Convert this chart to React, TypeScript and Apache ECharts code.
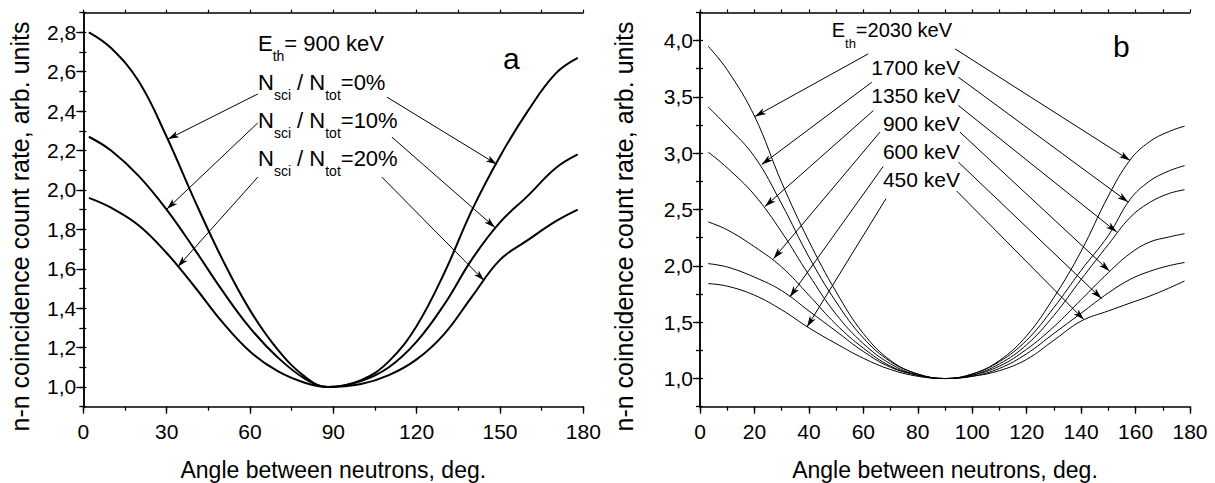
import React, { useEffect, useRef } from 'react';
import * as echarts from 'echarts';

const FONT = '"Liberation Sans", Arial, Helvetica, sans-serif';

// ---------- Panel a ----------
const anglesA = [2, 10, 20, 30, 40, 50, 60, 70, 80, 88, 100, 110, 120, 130, 140, 150, 160, 170, 178];
const sci0 = [2.80, 2.72, 2.55, 2.27, 1.95, 1.65, 1.39, 1.19, 1.05, 1.00, 1.035, 1.13, 1.31, 1.58, 1.90, 2.17, 2.40, 2.59, 2.67];
const sci10 = [2.27, 2.20, 2.07, 1.90, 1.70, 1.49, 1.30, 1.15, 1.04, 1.00, 1.03, 1.10, 1.23, 1.42, 1.65, 1.835, 1.97, 2.11, 2.18];
const sci20 = [1.96, 1.91, 1.82, 1.68, 1.51, 1.33, 1.18, 1.08, 1.02, 1.00, 1.015, 1.06, 1.14, 1.27, 1.46, 1.645, 1.745, 1.84, 1.90];
const yTicksA = [1.0, 1.2, 1.4, 1.6, 1.8, 2.0, 2.2, 2.4, 2.6, 2.8];
// arrows: [fromAngle, fromValue, toAngle, toValue]
const arrowsA = [
  [62.8, 2.487, 30.5, 2.258],
  [62.8, 2.34, 30.1, 1.903],
  [62.8, 2.065, 34.0, 1.61],
  [109.3, 2.471, 148.9, 2.13],
  [111.1, 2.268, 148.2, 1.81],
  [107.5, 2.065, 144.3, 1.54],
];

// ---------- Panel b ----------
const anglesB = [3, 10, 20, 30, 40, 50, 60, 70, 80, 90, 100, 110, 120, 130, 140, 150, 158, 165, 172, 178];
const e2030 = [3.95, 3.74, 3.33, 2.74, 2.22, 1.77, 1.40, 1.16, 1.04, 1.00, 1.04, 1.16, 1.38, 1.72, 2.13, 2.62, 2.94, 3.10, 3.19, 3.24];
const e1700 = [3.41, 3.24, 2.97, 2.55, 2.08, 1.68, 1.36, 1.15, 1.04, 1.00, 1.04, 1.15, 1.34, 1.63, 1.96, 2.27, 2.59, 2.75, 2.84, 2.89];
const e1350 = [3.01, 2.87, 2.63, 2.30, 1.92, 1.57, 1.31, 1.13, 1.03, 1.00, 1.03, 1.13, 1.30, 1.56, 1.88, 2.19, 2.43, 2.56, 2.64, 2.676];
const e900 = [2.39, 2.32, 2.17, 1.99, 1.74, 1.48, 1.27, 1.11, 1.03, 1.00, 1.03, 1.11, 1.26, 1.46, 1.70, 1.94, 2.11, 2.21, 2.255, 2.286];
const e600 = [2.02, 1.99, 1.90, 1.78, 1.60, 1.42, 1.24, 1.10, 1.03, 1.00, 1.02, 1.09, 1.22, 1.40, 1.58, 1.76, 1.88, 1.95, 2.00, 2.03];
const e450 = [1.843, 1.82, 1.74, 1.61, 1.45, 1.31, 1.18, 1.08, 1.02, 1.00, 1.02, 1.07, 1.17, 1.34, 1.51, 1.60, 1.67, 1.73, 1.80, 1.866];
const yTicksB = [1.0, 1.5, 2.0, 2.5, 3.0, 3.5, 4.0];
const arrowsB = [
  [61.8, 3.882, 20.2, 3.326],
  [63.1, 3.63, 22.7, 2.90],
  [63.7, 3.379, 23.9, 2.528],
  [66.1, 3.187, 27.0, 2.064],
  [67.3, 2.883, 33.0, 1.724],
  [68.3, 2.596, 39.3, 1.458],
  [93.7, 3.926, 158.0, 2.936],
  [94.9, 3.675, 157.3, 2.566],
  [94.9, 3.424, 153.1, 2.30],
  [95.5, 3.187, 150.4, 1.954],
  [94.9, 2.921, 147.5, 1.71],
  [94.3, 2.664, 141.0, 1.523],
];

const zip = (xs: number[], ys: number[]) => xs.map((x, i) => [x, ys[i]]);
const comma = (v: number) => v.toFixed(1).replace('.', ',');

function arrowData(arrows: number[][]) {
  return arrows.map((a) => [
    { coord: [a[0], a[1]], symbol: 'none' },
    { coord: [a[2], a[3]], symbol: 'arrow', symbolSize: [5, 11] },
  ]);
}

function makeAxes(grid: number, xMinor: number, xMajor: number, yMin: number, yMax: number, yMinor: number, yMajors: number[]) {
  const line = { show: true, lineStyle: { color: '#000', width: 1.5 } };
  const noLine = { show: false };
  const lbl = { color: '#000', fontFamily: FONT, fontSize: 21 };
  const xAxes = [
    {
      type: 'value', gridIndex: grid, position: 'bottom', min: 0, max: 180, interval: xMajor,
      axisLine: line, splitLine: { show: false },
      axisTick: { show: true, inside: false, length: 7, lineStyle: { color: '#000', width: 1.3 } },
      axisLabel: { ...lbl, margin: 14, showMinLabel: true, showMaxLabel: true },
    },
    {
      type: 'value', gridIndex: grid, position: 'bottom', min: 0, max: 180, interval: xMinor,
      axisLine: noLine, splitLine: { show: false },
      axisTick: { show: true, inside: false, length: 4, lineStyle: { color: '#000', width: 1.3 } },
      axisLabel: { show: false },
    },
    {
      type: 'value', gridIndex: grid, position: 'top', min: 0, max: 180, interval: xMinor,
      axisLine: line, splitLine: { show: false },
      axisTick: { show: true, inside: false, length: 3, lineStyle: { color: '#000', width: 1.2 } },
      axisLabel: { show: false },
    },
  ];
  const yAxes = [
    {
      type: 'value', gridIndex: grid, position: 'left', min: yMin, max: yMax,
      axisLine: line, splitLine: { show: false },
      axisTick: { show: true, inside: false, length: 7, customValues: yMajors, lineStyle: { color: '#000', width: 1.3 } },
      axisLabel: { ...lbl, margin: 7, customValues: yMajors, formatter: (v: number) => comma(v) },
    },
    {
      type: 'value', gridIndex: grid, position: 'left', min: yMin, max: yMax, interval: yMinor,
      axisLine: noLine, splitLine: { show: false },
      axisTick: { show: true, inside: false, length: 4, lineStyle: { color: '#000', width: 1.3 } },
      axisLabel: { show: false },
    },
    {
      type: 'value', gridIndex: grid, position: 'right', min: yMin, max: yMax, interval: yMinor,
      axisLine: line, splitLine: { show: false },
      axisTick: { show: true, inside: false, length: 3, lineStyle: { color: '#000', width: 1.2 } },
      axisLabel: { show: false },
    },
  ];
  return { xAxes, yAxes };
}

function curve(name: string, xs: number[], ys: number[], axisIdx: number, width: number, arrows?: number[][]) {
  const s: any = {
    type: 'line', name, data: zip(xs, ys), xAxisIndex: axisIdx, yAxisIndex: axisIdx,
    smooth: 0.4, showSymbol: false, symbol: 'none', silent: true,
    lineStyle: { color: '#000', width },
  };
  if (arrows) {
    s.markLine = {
      silent: true, animation: false,
      symbol: ['none', 'arrow'],
      label: { show: false },
      lineStyle: { color: '#000', width: 1, type: 'solid' },
      itemStyle: { color: '#000' },
      emphasis: { disabled: true },
      data: arrowData(arrows),
    };
  }
  return s;
}

function richLine(x: number, y: number, text: string, mainSize: number, subSize: number, lh: number, subPad: number) {
  return {
    type: 'text', x, y, silent: true,
    style: {
      text, verticalAlign: 'top', align: 'left',
      rich: {
        m: { fontFamily: FONT, fontSize: mainSize, fill: '#000', lineHeight: lh, verticalAlign: 'top' },
        s: { fontFamily: FONT, fontSize: subSize, fill: '#000', verticalAlign: 'top', padding: [subPad, 0, 0, 0] },
      },
    },
  };
}

function plain(x: number, y: number, text: string, size: number, align: string, rotation = 0) {
  return {
    type: 'text', x, y, rotation, silent: true,
    style: { text, fontFamily: FONT, fontSize: size, fill: '#000', align, verticalAlign: 'middle' },
  };
}

function buildOption() {
  const a = makeAxes(0, 15, 30, 0.9, 2.9, 0.1, yTicksA);
  const b = makeAxes(1, 10, 20, 0.75, 4.25, 0.25, yTicksB);
  return {
    animation: false,
    backgroundColor: '#fff',
    textStyle: { fontFamily: FONT },
    grid: [
      { left: 83.3, top: 12.6, width: 500, height: 394.1 },
      { left: 700, top: 12.4, width: 490, height: 394.3 },
    ],
    xAxis: [...a.xAxes, ...b.xAxes],
    yAxis: [...a.yAxes, ...b.yAxes],
    series: [
      curve('0%', anglesA, sci0, 0, 2, arrowsA),
      curve('10%', anglesA, sci10, 0, 2),
      curve('20%', anglesA, sci20, 0, 2),
      curve('2030 keV', anglesB, e2030, 3, 1, arrowsB),
      curve('1700 keV', anglesB, e1700, 3, 1),
      curve('1350 keV', anglesB, e1350, 3, 1),
      curve('900 keV', anglesB, e900, 3, 1),
      curve('600 keV', anglesB, e600, 3, 1),
      curve('450 keV', anglesB, e450, 3, 1),
    ],
    graphic: [
      richLine(258, 32.4, '{m|E}{s|th}{m|= 900 keV}', 22, 14, 26, 16.7),
      richLine(258, 71.4, '{m|N}{s|sci}{m| / N}{s|tot}{m|=0%}', 22, 14, 26, 16.7),
      richLine(258, 109.4, '{m|N}{s|sci}{m| / N}{s|tot}{m|=10%}', 22, 14, 26, 16.7),
      richLine(258, 147.4, '{m|N}{s|sci}{m| / N}{s|tot}{m|=20%}', 22, 14, 26, 16.7),
      plain(503, 58.6, 'a', 30, 'left'),
      richLine(831.7, 20.1, '{m|E}{s|th}{m|=2030 keV}', 20, 13, 24, 16.9),
      plain(960, 67.7, '1700 keV', 21, 'right'),
      plain(960, 95.7, '1350 keV', 21, 'right'),
      plain(960, 123.7, '900 keV', 21, 'right'),
      plain(960, 151.7, '600 keV', 21, 'right'),
      plain(960, 179.7, '450 keV', 21, 'right'),
      plain(1113, 46.9, 'b', 30, 'left'),
      plain(333.3, 470.3, 'Angle between neutrons, deg.', 23, 'center'),
      plain(945, 470.3, 'Angle between neutrons, deg.', 23, 'center'),
      plain(20, 226.5, 'n-n coincidence count rate, arb. units', 25, 'center', Math.PI / 2),
      plain(623.7, 226.5, 'n-n coincidence count rate, arb. units', 25, 'center', Math.PI / 2),
    ],
  };
}

export default function App() {
  const ref = useRef<HTMLDivElement>(null);
  useEffect(() => {
    const chart = echarts.init(ref.current as HTMLDivElement, undefined, { renderer: 'svg' });
    chart.setOption(buildOption() as any);
    return () => chart.dispose();
  }, []);
  return (
    <div
      ref={ref}
      style={{ position: 'fixed', left: 0, top: 0, width: 1215, height: 483, background: '#fff' }}
    />
  );
}
